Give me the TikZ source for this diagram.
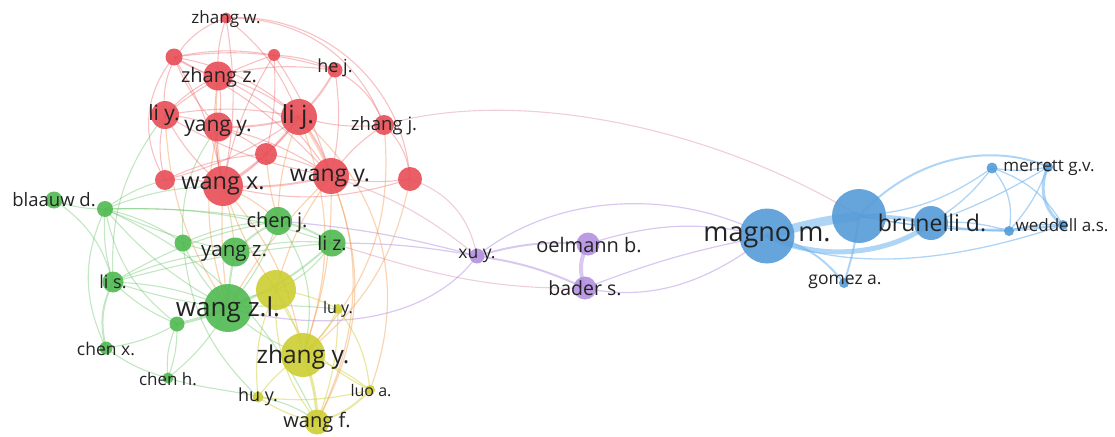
\documentclass[tikz,border=0pt]{standalone}
\usepackage{fontspec}
\setmainfont{Open Sans}
\pgfdeclarelayer{bg}
\pgfsetlayers{bg,main}
\definecolor{vred}{RGB}{232,78,86}
\definecolor{vgreen}{RGB}{80,185,80}
\definecolor{vyellow}{RGB}{205,205,50}
\definecolor{vblue}{RGB}{85,155,215}
\definecolor{vbluee}{RGB}{110,178,238}
\definecolor{vpurple}{RGB}{180,145,225}
\definecolor{vorange}{RGB}{240,150,70}
\definecolor{labc}{RGB}{35,35,35}
\tikzset{
  vn/.style={circle,inner sep=0pt,draw=none,fill opacity=0.9},
  rn/.style={vn,fill=vred},
  gn/.style={vn,fill=vgreen},
  yn/.style={vn,fill=vyellow},
  bn/.style={vn,fill=vblue},
  pn/.style={vn,fill=vpurple},
  lab/.style={text=labc,inner sep=0pt},
  fs/.style={font=\fontsize{#1}{#1}\selectfont},
  re/.style={draw=vred,draw opacity=0.35,line width=1.1pt},
  ge/.style={draw=vgreen,draw opacity=0.35,line width=1.1pt},
  ye/.style={draw=vyellow,draw opacity=0.45,line width=1.2pt},
  oe/.style={draw=vorange,draw opacity=0.4,line width=1.2pt},
  be/.style={draw=vbluee,draw opacity=0.55,line width=1.3pt},
  pe/.style={draw=vpurple,draw opacity=0.5,line width=1.2pt},
  ke/.style={draw=vred!50!vpurple,draw opacity=0.35,line width=1.1pt},
}
\begin{document}
\begin{tikzpicture}[x=1pt,y=-1pt]
\useasboundingbox (0,0) rectangle (1115,436);
% ---- red nodes
\node[rn,minimum size=11pt] (zw) at (226,18) {};
\node[rn,minimum size=17pt] (r1) at (174,57) {};
\node[rn,minimum size=12pt] (r2) at (274,55) {};
\node[rn,minimum size=29pt] (zz) at (218,76) {};
\node[rn,minimum size=15pt] (hj) at (335,70) {};
\node[rn,minimum size=28pt] (ly) at (165,115) {};
\node[rn,minimum size=36pt] (lj) at (299,117) {};
\node[rn,minimum size=29pt] (yy) at (218,127) {};
\node[rn,minimum size=20pt] (zj) at (384,125) {};
\node[rn,minimum size=22pt] (r3) at (266,154) {};
\node[rn,minimum size=40pt] (wx) at (223,186) {};
\node[rn,minimum size=20pt] (r4) at (165,180) {};
\node[rn,minimum size=36pt] (wy) at (331,176) {};
\node[rn,minimum size=24pt] (r5) at (410,179) {};
% ---- green nodes
\node[gn,minimum size=17pt] (bd) at (54,200) {};
\node[gn,minimum size=16pt] (g1) at (105,209) {};
\node[gn,minimum size=28pt] (cj) at (278,221) {};
\node[gn,minimum size=17pt] (g2) at (183,243) {};
\node[gn,minimum size=29pt] (yz) at (235,252) {};
\node[gn,minimum size=27pt] (lz) at (332,243) {};
\node[gn,minimum size=21pt] (ls) at (113,282) {};
\node[gn,minimum size=48pt] (wzl) at (228,308) {};
\node[gn,minimum size=15pt] (g3) at (177,324) {};
\node[gn,minimum size=13pt] (cx) at (106,348) {};
\node[gn,minimum size=11pt] (ch) at (168,378) {};
% ---- yellow nodes
\node[yn,minimum size=40pt] (yb) at (276,290) {};
\node[yn,minimum size=10pt] (luy) at (338,309) {};
\node[yn,minimum size=44pt] (zy) at (303,355) {};
\node[yn,minimum size=11pt] (huy) at (258,397) {};
\node[yn,minimum size=10pt] (luo) at (370,390) {};
\node[yn,minimum size=25pt] (wf) at (317,422) {};
% ---- purple nodes
\node[pn,minimum size=15pt] (xu) at (477,256) {};
\node[pn,minimum size=23pt] (ob) at (588,244) {};
\node[pn,minimum size=23pt] (bs) at (585,288) {};
% ---- blue nodes
\node[bn,minimum size=55pt] (mm) at (767,236) {};
\node[bn,minimum size=54pt] (bb) at (859,216) {};
\node[bn,minimum size=34pt] (bd2) at (931,223) {};
\node[bn,minimum size=10pt] (ga) at (844,283) {};
\node[bn,minimum size=11pt] (mg1) at (992,168) {};
\node[bn,minimum size=10pt] (mg2) at (1048,167) {};
\node[bn,minimum size=10pt] (wd1) at (1009,231) {};
\node[bn,minimum size=10pt] (wd2) at (1063,225) {};
% ---- edges
\begin{pgfonlayer}{bg}
% red cluster
\draw[re] (zw.center) to[bend right=40] (ly.center);
\draw[re] (zw.center) to[bend left=35] (zj.center);
\draw[re] (zw.center) to[bend left=45] (r5.center);
\draw[re] (zw.center) to[bend left=10] (wx.center);
\draw[re] (zw.center) to[bend left=15] (lj.center);
\draw[re] (zw.center) to[bend right=10] (zz.center);
\draw[re] (r1.center) to[bend left=10] (r2.center);
\draw[re] (r1.center) to[bend left=12] (hj.center);
\draw[re] (r1.center) to[bend right=10] (zz.center);
\draw[re] (r1.center) to[bend right=35] (r4.center);
\draw[re] (r1.center) to[bend left=10] (wx.center);
\draw[re] (r1.center) to[bend left=10] (wy.center);
\draw[re] (r1.center) to[bend left=15] (lj.center);
\draw[re] (r2.center) to[bend left=10] (hj.center);
\draw[re] (r2.center) to[bend left=8] (wy.center);
\draw[re] (r2.center) to[bend right=10] (wx.center);
\draw[re] (r2.center) to[bend right=10] (ly.center);
\draw[re] (r2.center) to[bend left=8] (r3.center);
\draw[re] (zz.center) to[bend left=10] (lj.center);
\draw[re] (zz.center) to[bend left=10] (hj.center);
\draw[re] (zz.center) to[bend left=15] (wy.center);
\draw[re] (zz.center) to[bend left=10] (yy.center);
\draw[re] (zz.center) to[bend right=10] (ly.center);
\draw[re] (zz.center) to[bend right=10] (wx.center);
\draw[re] (ly.center) to[bend left=10] (lj.center);
\draw[re] (ly.center) to[bend left=8] (yy.center);
\draw[re] (ly.center) to[bend right=10] (wx.center);
\draw[re] (ly.center) to[bend right=10] (wy.center);
\draw[re] (ly.center) to[bend right=15] (r4.center);
\draw[re,line width=2pt] (lj.center) to[bend left=8] (yy.center);
\draw[re,line width=2pt] (lj.center) to[bend left=10] (wx.center);
\draw[re] (lj.center) to[bend left=8] (r3.center);
\draw[re,line width=2pt] (lj.center) to[bend left=10] (wy.center);
\draw[re] (lj.center) to[bend right=10] (zj.center);
\draw[re,line width=2pt] (lj.center) to[bend right=8] (hj.center);
\draw[re] (lj.center) to[bend left=10] (r4.center);
\draw[re] (hj.center) to[bend left=10] (wy.center);
\draw[re] (hj.center) to[bend left=20] (zj.center);
\draw[re] (zj.center) to[bend right=10] (wy.center);
\draw[re] (zj.center) to[bend left=20] (r5.center);
\draw[re] (wy.center) to[bend right=10] (r5.center);
\draw[re,line width=2pt] (wy.center) to[bend left=8] (wx.center);
\draw[re] (wy.center) to[bend right=10] (r3.center);
\draw[re] (yy.center) to[bend right=10] (wx.center);
\draw[re] (yy.center) to[bend left=10] (r3.center);
\draw[re] (yy.center) to[bend left=10] (wy.center);
\draw[re] (r3.center) to[bend left=10] (wx.center);
\draw[re] (r3.center) to[bend right=10] (r4.center);
\draw[re] (r4.center) to[bend left=10] (wx.center);
\draw[re] (r5.center) to[bend left=15] (wx.center);
\draw[re] (r1.center) to[bend right=10] (yy.center);
% red to other clusters
\draw[oe] (wx.center) to[bend right=5] (wzl.center);
\draw[oe] (wx.center) to[bend left=10] (cj.center);
\draw[oe] (wx.center) to[bend left=5] (yz.center);
\draw[oe] (wx.center) to[bend left=15] (zy.center);
\draw[oe] (wy.center) to[bend left=10] (zy.center);
\draw[oe] (wy.center) to[bend left=25] (wf.center);
\draw[oe] (lj.center) to[bend left=20] (zy.center);
\draw[oe] (lj.center) to[bend left=30] (wf.center);
\draw[oe] (lj.center) to[bend left=35] (luo.center);
\draw[oe] (r3.center) to[bend right=5] (cj.center);
\draw[oe] (wy.center) to[bend right=10] (yb.center);
\draw[oe] (zj.center) to[bend left=25] (zy.center);
\draw[oe] (yy.center) to[bend right=15] (wzl.center);
\draw[oe] (ly.center) to[bend right=15] (wzl.center);
\draw[oe] (zz.center) to[bend right=20] (yb.center);
\draw[oe] (wy.center) to[bend right=8] (wzl.center);
\draw[oe] (lj.center) to[bend right=10] (cj.center);
\draw[oe] (r5.center) to[bend left=20] (zy.center);
\draw[ge] (wx.center) to[bend right=10] (g1.center);
\draw[ge] (ly.center) to[bend right=20] (ls.center);
\draw[ge] (r4.center) to[bend right=10] (g1.center);
\draw[ge] (yy.center) to[bend right=20] (g2.center);
% cross edges to purple / blue
\draw[ke] (zj.center) .. controls (520,85) and (720,130) .. (bb.center);
\draw[ke] (r5.center) to[bend left=30] (xu.center);
\draw[ke] (wy.center) to[bend left=10] (xu.center);
\draw[pe] (cj.center) to[bend left=5] (xu.center);
\draw[pe] (lz.center) to[bend left=5] (xu.center);
\draw[ke] (lz.center) .. controls (420,270) and (480,290) .. (bs.center);
\draw[pe] (wzl.center) .. controls (330,335) and (430,320) .. (xu.center);
% green cluster
\draw[ge] (bd.center) to[bend right=10] (g1.center);
\draw[ge] (g1.center) to[bend left=5] (cj.center);
\draw[ge] (g1.center) to[bend right=10] (ls.center);
\draw[ge] (g1.center) to[bend right=10] (wzl.center);
\draw[ge] (g1.center) to[bend right=5] (yz.center);
\draw[ge] (g1.center) to[bend left=10] (g2.center);
\draw[ge] (g1.center) to[bend right=20] (g3.center);
\draw[ge] (g1.center) to[bend right=25] (cx.center);
\draw[ge] (g1.center) to[bend left=10] (lz.center);
\draw[ge] (g2.center) to[bend left=10] (cj.center);
\draw[ge] (g2.center) to[bend right=10] (yz.center);
\draw[ge] (g2.center) to[bend right=10] (wzl.center);
\draw[ge,line width=2pt] (cj.center) to[bend right=10] (yz.center);
\draw[ge,line width=2pt] (cj.center) to[bend left=10] (lz.center);
\draw[ge] (cj.center) to[bend left=10] (wzl.center);
\draw[ge] (yz.center) to[bend left=10] (lz.center);
\draw[ge,line width=2pt] (yz.center) to[bend right=5] (wzl.center);
\draw[ge,line width=2pt] (lz.center) to[bend left=10] (wzl.center);
\draw[ge] (ls.center) to[bend left=10] (wzl.center);
\draw[ge] (ls.center) to[bend right=5] (wzl.center);
\draw[ge,line width=2pt] (ls.center) to[bend right=20] (cx.center);
\draw[ge] (ls.center) to[bend right=10] (g3.center);
\draw[ge] (ls.center) to[bend left=10] (cj.center);
\draw[ge] (ls.center) to[bend left=10] (yz.center);
\draw[ge] (ls.center) to[bend left=5] (lz.center);
\draw[ge,line width=3pt] (wzl.center) to[bend left=5] (g3.center);
\draw[ge] (g3.center) to[bend left=10] (cx.center);
\draw[ge] (g3.center) to[bend right=15] (ch.center);
\draw[ge] (g3.center) to[bend left=10] (ch.center);
\draw[ge] (cx.center) to[bend right=10] (ch.center);
\draw[ge] (ch.center) to[bend right=10] (wzl.center);
\draw[ge] (ch.center) .. controls (220,395) and (280,390) .. (wf.center);
\draw[ge] (wzl.center) to[bend right=10] (zy.center);
\draw[ge] (wzl.center) to[bend left=10] (yb.center);
\draw[ge] (wzl.center) to[bend left=5] (luy.center);
\draw[ge] (bd.center) to[bend left=20] (ls.center);
\draw[ge] (g1.center) to[bend left=20] (wf.center);
\draw[ge] (lz.center) to[bend left=15] (yb.center);
\draw[ge] (cj.center) to[bend left=25] (zy.center);
\draw[ge] (g2.center) to[bend right=20] (huy.center);
% yellow cluster
\draw[ye] (yb.center) to[bend left=10] (zy.center);
\draw[ye] (yb.center) to[bend left=10] (luy.center);
\draw[ye] (zy.center) to[bend right=10] (luy.center);
\draw[ye] (zy.center) to[bend right=10] (huy.center);
\draw[ye] (zy.center) to[bend left=10] (luo.center);
\draw[ye,line width=3pt] (zy.center) to[bend left=10] (wf.center);
\draw[ye] (wf.center) to[bend left=10] (huy.center);
\draw[ye,line width=2pt] (wf.center) to[bend right=15] (luo.center);
\draw[ye] (luo.center) to[bend right=15] (luy.center);
\draw[ye] (huy.center) to[bend left=15] (yb.center);
\draw[ye] (wf.center) to[bend left=20] (yb.center);
\draw[ye] (luy.center) to[bend left=10] (wf.center);
\draw[ye] (huy.center) to[bend right=10] (luo.center);
\draw[ye] (yb.center) to[bend right=20] (luo.center);
% purple cluster
\draw[pe,line width=2pt] (xu.center) to[bend left=10] (ob.center);
\draw[pe,line width=2pt] (xu.center) to[bend left=8] (bs.center);
\draw[pe,line width=4pt] (ob.center) to[bend right=25] (bs.center);
\draw[pe] (xu.center) .. controls (560,190) and (680,190) .. (mm.center);
\draw[pe] (ob.center) to[bend left=15] (mm.center);
\draw[pe] (bs.center) to[bend left=5] (mm.center);
\draw[pe] (bs.center) .. controls (640,300) and (700,290) .. (mm.center);
% blue cluster
\draw[be,line width=9pt] (mm.center) to[bend left=5] (bb.center);
\draw[be,line width=5pt] (mm.center) .. controls (820,262) and (890,255) .. (bd2.center);
\draw[be,line width=4pt] (bb.center) to[bend left=5] (bd2.center);
\draw[be,line width=2pt] (mm.center) to[bend left=20] (ga.center);
\draw[be,line width=2pt] (bb.center) to[bend left=5] (ga.center);
\draw[be,line width=2pt] (bb.center) .. controls (920,150) and (1000,145) .. (mg2.center);
\draw[be] (bb.center) to[bend right=15] (mg1.center);
\draw[be] (bb.center) to[bend right=5] (wd1.center);
\draw[be] (bb.center) to[bend right=8] (wd2.center);
\draw[be] (bd2.center) to[bend right=10] (mg1.center);
\draw[be] (bd2.center) to[bend left=10] (wd1.center);
\draw[be] (bd2.center) to[bend right=10] (wd2.center);
\draw[be] (bd2.center) to[bend right=5] (mg2.center);
\draw[be] (mm.center) .. controls (850,275) and (960,260) .. (wd2.center);
\draw[be] (mg1.center) to[bend right=10] (mg2.center);
\draw[be] (mg1.center) to[bend left=25] (wd1.center);
\draw[be] (mg1.center) to[bend left=20] (wd2.center);
\draw[be] (mg2.center) to[bend left=10] (wd1.center);
\draw[be,line width=3pt] (mg2.center) to[bend right=40] (wd2.center);
\draw[be] (wd1.center) to[bend left=10] (wd2.center);
\end{pgfonlayer}
% ---- labels
\node[lab,fs=17] (l-zw) at (226,19) {zhang w.};
\node[lab,fs=20] (l-zz) at (219,77) {zhang z.};
\node[lab,fs=18] (l-hj) at (335,68) {he j.};
\node[lab,fs=21] (l-ly) at (164,115) {li y.};
\node[lab,fs=25] (l-lj) at (298,117) {li j.};
\node[lab,fs=21] (l-yy) at (218,128) {yang y.};
\node[lab,fs=18.5] (l-zj) at (384,126) {zhang j.};
\node[lab,fs=23.5] (l-wx) at (223,186) {wang x.};
\node[lab,fs=23] (l-wy) at (330,178) {wang y.};
\node[lab,fs=18.5] (l-bd) at (54,200) {blaauw d.};
\node[lab,fs=20] (l-cj) at (277,222) {chen j.};
\node[lab,fs=20.5] (l-yz) at (234,253) {yang z.};
\node[lab,fs=19.5] (l-lz) at (332,243) {li z.};
\node[lab,fs=18] (l-ls) at (113,282) {li s.};
\node[lab,fs=26] (l-wzl) at (228,310) {wang z.l.};
\node[lab,fs=17.5] (l-cx) at (106,349) {chen x.};
\node[lab,fs=17] (l-ch) at (168,379) {chen h.};
\node[lab,fs=16] (l-luy) at (338,309) {lu y.};
\node[lab,fs=24.5] (l-zy) at (303,357) {zhang y.};
\node[lab,fs=18] (l-huy) at (258,397) {hu y.};
\node[lab,fs=16] (l-luo) at (371,391) {luo a.};
\node[lab,fs=20] (l-wf) at (317,422) {wang f.};
\node[lab,fs=17.5] (l-xu) at (477,256) {xu y.};
\node[lab,fs=20] (l-ob) at (589,245) {oelmann b.};
\node[lab,fs=19.5] (l-bs) at (585,288) {bader s.};
\node[lab,fs=27] (l-mm) at (767,237) {magno m.};
\node[lab,fs=23] (l-bd2) at (932,223) {brunelli d.};
\node[lab,fs=17.5] (l-ga) at (845,282) {gomez a.};
\node[lab,fs=17] (l-mg) at (1049,168) {merrett g.v.};
\node[lab,fs=17] (l-wd) at (1062,225) {weddell a.s.};
\end{tikzpicture}
\end{document}
